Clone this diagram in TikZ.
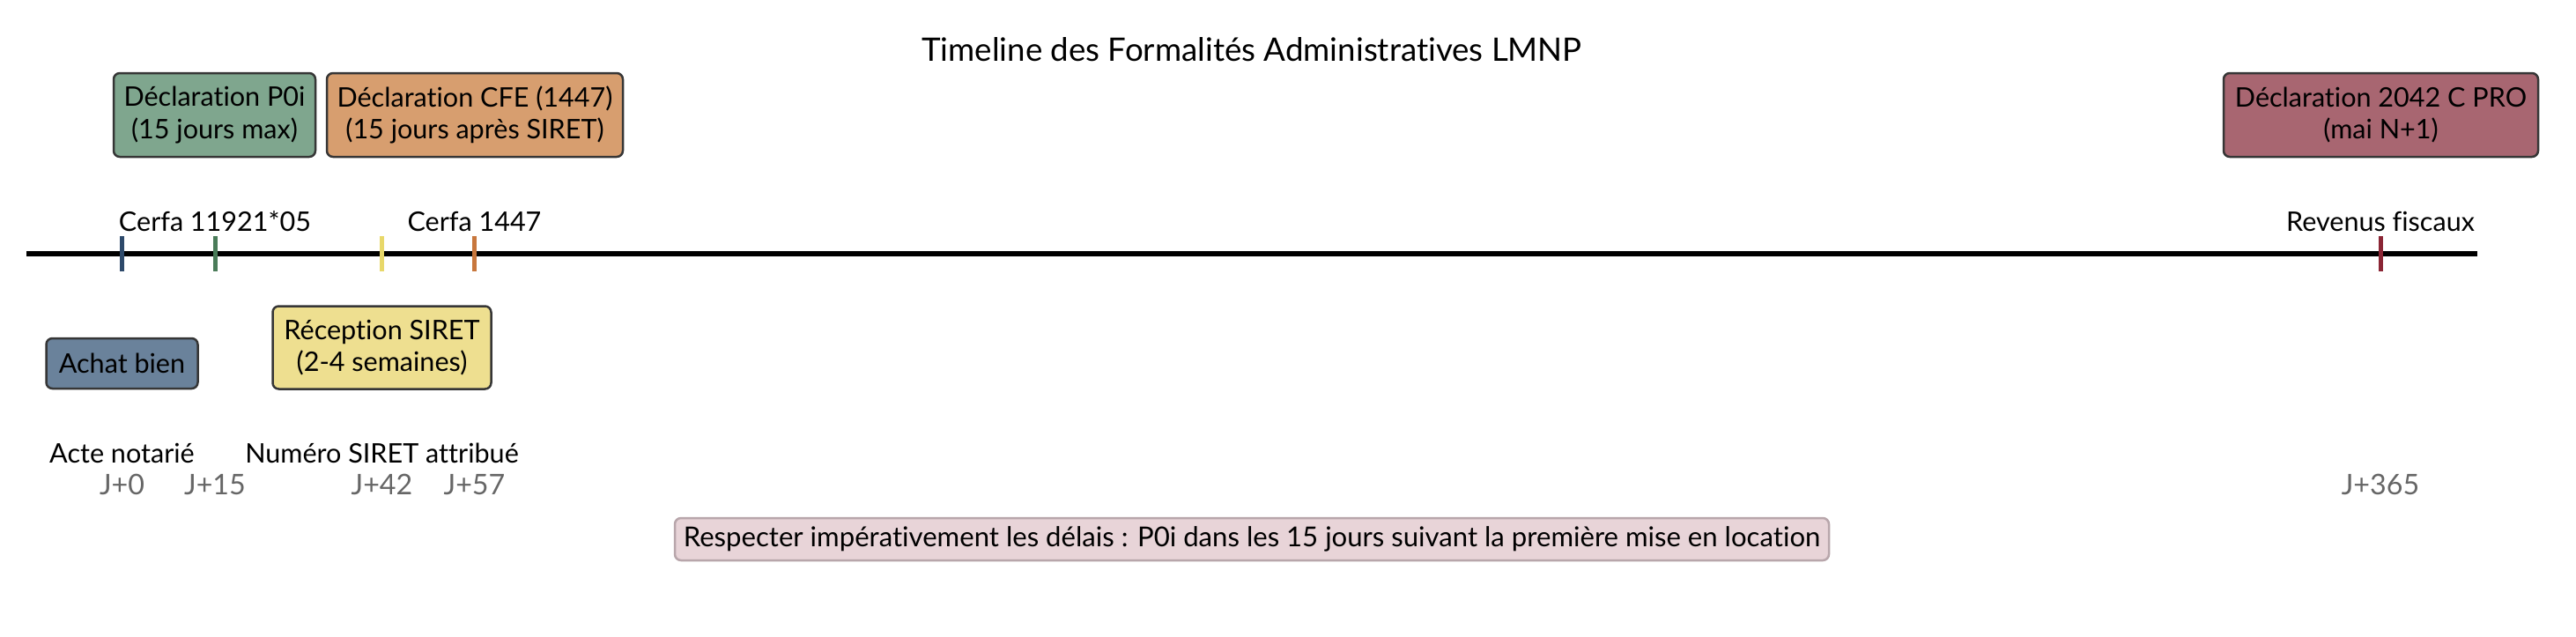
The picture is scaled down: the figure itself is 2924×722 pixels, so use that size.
\documentclass[tikz,border=0pt]{standalone}
\usepackage{fontspec}
\setmainfont{Lato}[Ligatures=NoCommon]
\definecolor{cBlue}{HTML}{2E4A6B}
\definecolor{cBlueF}{HTML}{6A829B}
\definecolor{cGreen}{HTML}{4A7C59}
\definecolor{cGreenF}{HTML}{7FA68E}
\definecolor{cYellow}{HTML}{E8D86A}
\definecolor{cYellowF}{HTML}{EEDF90}
\definecolor{cOrange}{HTML}{C8773D}
\definecolor{cOrangeF}{HTML}{D79E6F}
\definecolor{cRed}{HTML}{8B2635}
\definecolor{cRedF}{HTML}{A86671}
\definecolor{cPinkF}{HTML}{E8D4D8}
\definecolor{cPinkE}{HTML}{B8A6AB}
\definecolor{boxedge}{HTML}{363636}
\definecolor{daygray}{HTML}{666666}
\newcommand\pxu[1]{#1*0.36pt}
\tikzset{
  evbox/.style={draw=boxedge, line width=0.9pt, rounded corners=2.5pt, align=center,
    inner sep=0pt, font=\fontsize{11}{13.2}\selectfont},
  tickmark/.style={line width=1.8pt},
  lbl/.style={font=\fontsize{11}{13}\selectfont, anchor=base, inner sep=0pt},
  daylbl/.style={anchor=base, inner sep=0pt, font=\fontsize{11.6}{13}\selectfont, text=daygray},
}
\begin{document}
\begin{tikzpicture}[x=0.36pt,y=-0.36pt]
\useasboundingbox (0,0) rectangle (2924,722);
\node[font=\fontsize{13.2}{15.6}\selectfont, anchor=base, inner sep=0pt] (title) at (1421,69) {Timeline des Formalités Administratives LMNP};
% axis
\coordinate (Ls) at (30,288);
\coordinate (Le) at (2812,288);
\draw[line width=2pt] (Ls) -- (Le);
% tick positions
\coordinate (t0) at (138.5,288);
\coordinate (t15) at (244,288);
\coordinate (t42) at (433.5,288);
\coordinate (t57) at (538.5,288);
\coordinate (t365) at (2702,288);
\draw[tickmark, cBlue] ([yshift=\pxu{20}]t0) -- ([yshift=-\pxu{20}]t0);
\draw[tickmark, cGreen] ([yshift=\pxu{20}]t15) -- ([yshift=-\pxu{20}]t15);
\draw[tickmark, cYellow] ([yshift=\pxu{20}]t42) -- ([yshift=-\pxu{20}]t42);
\draw[tickmark, cOrange] ([yshift=\pxu{20}]t57) -- ([yshift=-\pxu{20}]t57);
\draw[tickmark, cRed] ([yshift=\pxu{20}]t365) -- ([yshift=-\pxu{20}]t365);
% event boxes
\node[evbox, fill=cBlueF, minimum width=\pxu{172}, minimum height=\pxu{57}] (achat) at (138.5,412.5) {Achat bien};
\node[evbox, fill=cGreenF, minimum width=\pxu{229}, minimum height=\pxu{95}] (p0i) at (243.5,130.5) {Déclaration P0i\\(15 jours max)};
\node[evbox, fill=cYellowF, minimum width=\pxu{248}, minimum height=\pxu{94}] (siret) at (433.5,394.5) {Réception SIRET\\(2-4 semaines)};
\node[evbox, fill=cOrangeF, minimum width=\pxu{336}, minimum height=\pxu{95}] (cfe) at (539,130.5) {Déclaration CFE (1447)\\(15 jours après SIRET)};
\node[evbox, fill=cRedF, minimum width=\pxu{357}, minimum height=\pxu{95}] (decl) at (2702.5,130.5) {Déclaration 2042 C PRO\\(mai N+1)};
% labels above
\node[lbl] (cerfaA) at (244,262.5) {Cerfa 11921*05};
\node[lbl] (cerfaB) at (538.5,262.5) {Cerfa 1447};
\node[lbl] (revenus) at (2702,262.5) {Revenus fiscaux};
% labels below
\node[lbl] (acte) at (138.5,525) {Acte notarié};
\node[lbl] (numero) at (433.5,525) {Numéro SIRET attribué};
% day labels
\node[daylbl] (d0) at (138.5,561) {J+0};
\node[daylbl] (d15) at (244,561) {J+15};
\node[daylbl] (d42) at (433.5,561) {J+42};
\node[daylbl] (d57) at (538.5,561) {J+57};
\node[daylbl] (d365) at (2702,561) {J+365};
% note
\node[evbox, draw=cPinkE, fill=cPinkF, minimum width=\pxu{1310}, minimum height=\pxu{48}, font=\fontsize{11.2}{13.2}\selectfont] (note) at (1421,612) {Respecter impérativement les délais : P0i dans les 15 jours suivant la première mise en location};
\end{tikzpicture}
\end{document}
